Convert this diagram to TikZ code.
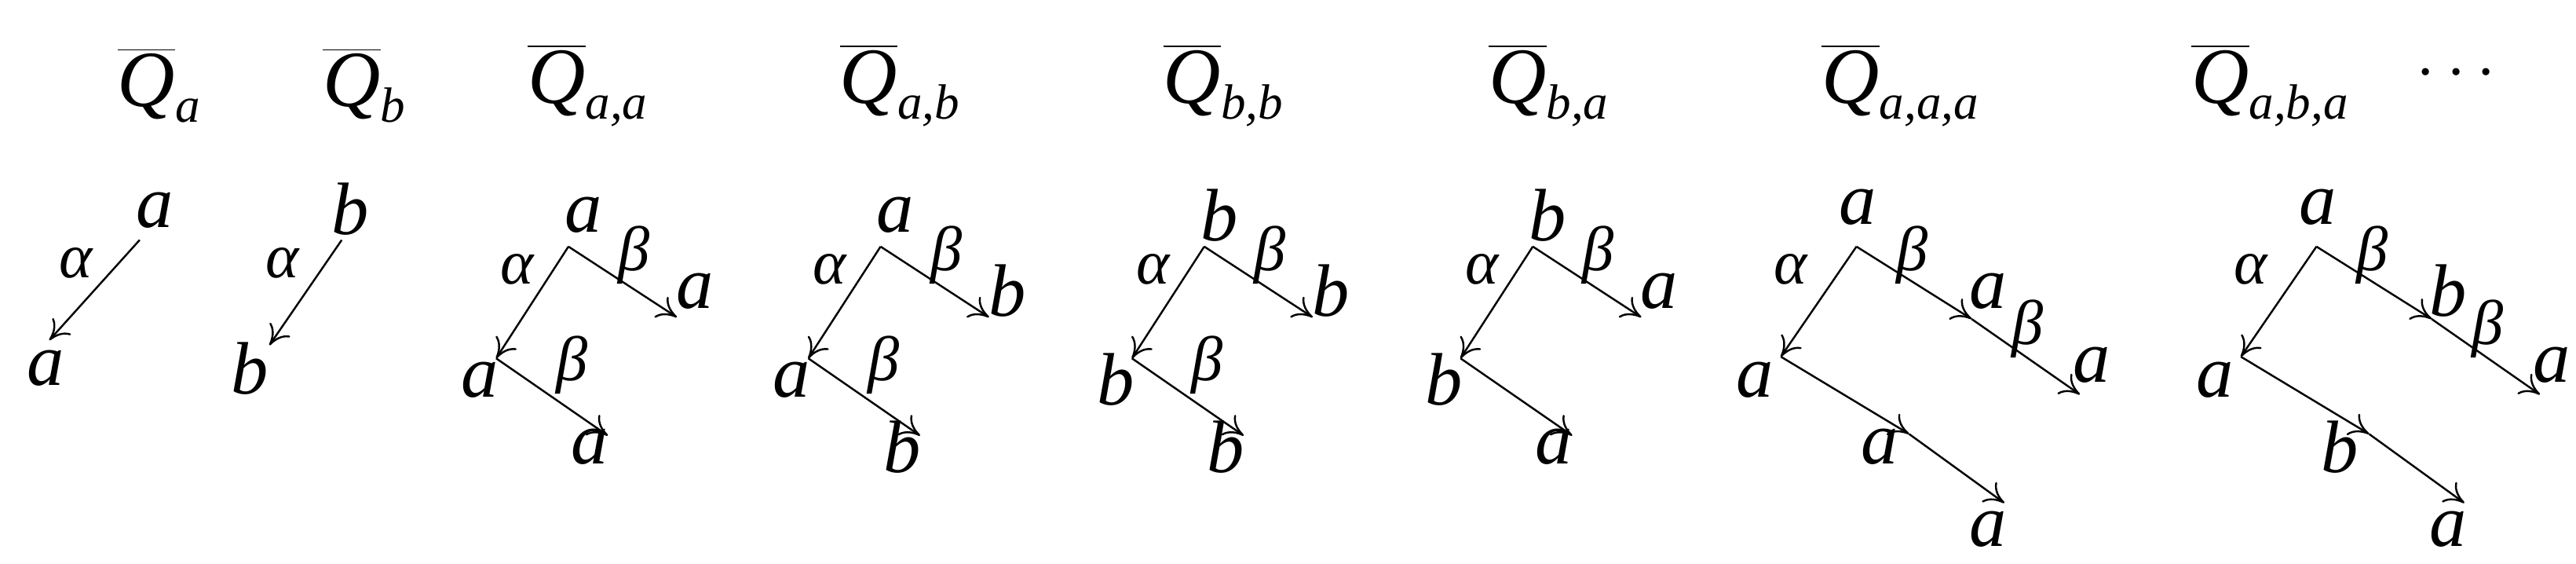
\documentclass[tikz,border=0pt]{standalone}
\usepackage{fontspec}
\setmainfont{Liberation Serif}
\newfontfamily\ti{Liberation Serif Italic}
\usetikzlibrary{arrows.meta}
\newcommand\QQ[1]{$\overline{\mbox{\ti Q}}_{\mbox{\fontsize{18}{20}\selectfont\ti #1}}$}
\tikzset{
  lab/.style={font=\fontsize{27}{30}\selectfont\ti, inner sep=0pt},
  gr/.style={font=\fontsize{23}{26}\selectfont\ti, inner sep=0pt},
  ttl/.style={font=\fontsize{29}{30}\selectfont\ti, inner sep=0pt},
  ar/.style={-{To[length=7pt,width=9pt]}, line width=0.7pt}
}
\begin{document}
\begin{tikzpicture}[x=0.021cm,y=-0.021cm]
\useasboundingbox (0,0) rectangle (1568,343);
% titles
\node[ttl] (t1) at (97,52) {\QQ{a}};
\node[ttl] (t2) at (222,52) {\QQ{b}};
\node[ttl] (t3) at (358,52) {\QQ{a,a}};
\node[ttl] (t4) at (548,52) {\QQ{a,b}};
\node[ttl] (t5) at (745,52) {\QQ{b,b}};
\node[ttl] (t6) at (943,52) {\QQ{b,a}};
\node[ttl] (t7) at (1157,52) {\QQ{a,a,a}};
\node[ttl] (t8) at (1382,52) {\QQ{a,b,a}};
\node[ttl] (dots) at (1495,45) {$\cdots$};
% diagram 1
\coordinate (p1) at (85,146); \coordinate (q1) at (30,207);
\draw[ar] (p1) -- (q1);
\node[lab] (l1a) at (94,128) {a}; \node[gr] (g1a) at (46,160) {α}; \node[lab] (l1b) at (28,224) {a};
% diagram 2
\coordinate (p2) at (208,146); \coordinate (q2) at (164,210);
\draw[ar] (p2) -- (q2);
\node[lab] (l2a) at (213,127) {b}; \node[gr] (g2a) at (172,160) {α}; \node[lab] (l2b) at (152,224) {b};
% two-level diagrams
\foreach \n/\cx/\top/\rr/\ll/\bb/\hasb in {3/346/a/a/a/a/1, 4/536/a/b/a/b/1, 5/733/b/b/b/b/1, 6/933/b/a/b/a/0}{
  \coordinate (c\n) at (\cx,150);
  \coordinate (l\n) at (\cx-44,218);
  \coordinate (r\n) at (\cx+66,193);
  \coordinate (d\n) at (\cx+24,265);
  \draw[ar] (c\n) -- (l\n);
  \draw[ar] (c\n) -- (r\n);
  \draw[ar] (l\n) -- (d\n);
  \node[lab] (nt\n) at (\cx+9,131) {\top};
  \node[lab] (nr\n) at (\cx+77,177) {\rr};
  \node[lab] (nl\n) at (\cx-54,231) {\ll};
  \node[lab] (nb\n) at (\cx+13,272) {\bb};
  \node[gr] (ga\n) at (\cx-31,164) {α};
  \node[gr] (gb\n) at (\cx+40,155) {β};
  \ifnum\hasb=1 \node[gr] (gc\n) at (\cx+2,222) {β}; \fi
}
% three-level diagrams
\foreach \n/\cx/\mr/\mb in {7/1130/a/a, 8/1410/b/b}{
  \coordinate (c\n) at (\cx,150);
  \coordinate (l\n) at (\cx-46,217);
  \coordinate (m\n) at (\cx+70,194);
  \coordinate (r\n) at (\cx+136,240);
  \coordinate (e\n) at (\cx+32,264);
  \coordinate (d\n) at (\cx+90,306);
  \draw[ar] (c\n) -- (l\n);
  \draw[ar] (c\n) -- (m\n);
  \draw[ar] (m\n) -- (r\n);
  \draw[ar] (l\n) -- (e\n);
  \draw[ar] (e\n) -- (d\n);
  \node[lab] (nt\n) at (\cx+1,126) {a};
  \node[lab] (nm\n) at (\cx+80,177) {\mr};
  \node[lab] (nr\n) at (\cx+143,222) {a};
  \node[lab] (nl\n) at (\cx-62,231) {a};
  \node[lab] (ne\n) at (\cx+14,272) {\mb};
  \node[lab] (nd\n) at (\cx+80,322) {a};
  \node[gr] (ga\n) at (\cx-40,164) {α};
  \node[gr] (gb\n) at (\cx+34,155) {β};
  \node[gr] (gc\n) at (\cx+104,200) {β};
}
\end{tikzpicture}
\end{document}
